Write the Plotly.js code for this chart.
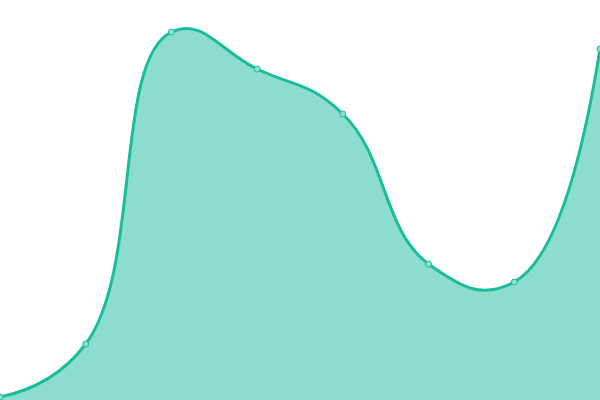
<!DOCTYPE html>
<html>
<head>
<meta charset="utf-8">
<script src="https://cdn.plot.ly/plotly-3.0.1.min.js"></script>
<style>
  html, body { margin: 0; padding: 0; background: #fff; }
  #chart { width: 600px; height: 400px; }
</style>
</head>
<body>
<div id="chart"></div>
<script>
// pontos da série
var xVals = [0, 1, 2, 3, 4, 5, 6, 7];
var yVals = [3, 56, 368, 331, 286, 136, 118, 351];

var lineColor = '#1abc9c';

var trace = {
    x: xVals,
    y: yVals,
    type: 'scatter',
    mode: 'lines+markers',
    fill: 'tozeroy',
    fillcolor: 'rgba(26, 188, 156, 0.5)',
    line: { color: lineColor, width: 3, shape: 'spline', smoothing: 1.3 },
    marker: {
        size: 6,
        color: '#8be0cf',
        line: { color: lineColor, width: 1 }
    },
    hoverinfo: 'x+y'
};

var layout = {
    width: 600,
    height: 400,
    margin: { l: 0, r: 0, t: 0, b: 0, pad: 0 },
    showlegend: false,
    paper_bgcolor: '#fff',
    plot_bgcolor: '#fff',
    xaxis: { range: [0, 7], visible: false, fixedrange: true },
    yaxis: { range: [0, 400], visible: false, fixedrange: true }
};

Plotly.newPlot('chart', [trace], layout, { displayModeBar: false, staticPlot: true });
</script>
</body>
</html>
